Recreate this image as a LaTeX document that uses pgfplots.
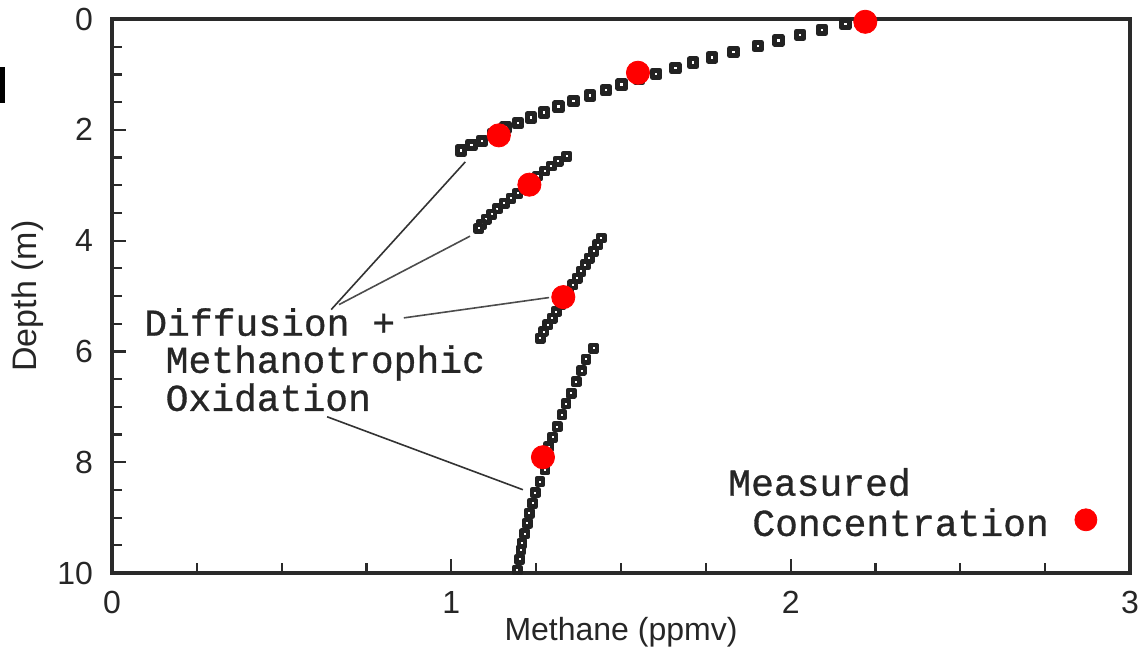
\documentclass[border=0pt]{standalone}
\usepackage{pgfplots}
\pgfplotsset{compat=1.18}
\usepackage{fontspec}
\setmainfont{Liberation Sans}
\newfontfamily\courier[FakeBold=0.8]{Liberation Mono}
\definecolor{axcol}{HTML}{2A2A2A}
\definecolor{sqcol}{HTML}{222222}
\definecolor{dotred}{HTML}{FF0000}
\begin{document}
\begin{tikzpicture}
\begin{axis}[
  name=ax, scale only axis, width=509pt, height=277pt,
  xmin=0, xmax=3, ymin=0, ymax=10, y dir=reverse,
  xtick={0,1,2,3}, ytick={0,2,4,6,8,10},
  minor xtick={0.25,0.5,0.75,1.25,1.5,1.75,2.25,2.5,2.75},
  minor ytick={0.5,1,1.5,2.5,3,3.5,4.5,5,5.5,6.5,7,7.5,8.5,9,9.5},
  tick pos=left, tick align=inside,
  major tick length=7pt, minor tick length=5pt,
  every tick/.append style={line width=1.1pt, color=axcol},
  axis line style={line width=1.6pt, color=axcol},
  ticklabel style={font=\fontsize{16}{19}\selectfont, color=black!85},
  /pgf/number format/assume math mode=true,
  yticklabel style={xshift=-6pt},
  xticklabel style={yshift=-5.5pt},
  xlabel={Methane (ppmv)}, ylabel={Depth (m)},
  xlabel style={font=\fontsize{16}{19}\selectfont, color=black!85, yshift=5pt},
  ylabel style={font=\fontsize{17}{20}\selectfont, color=black!85},
  clip=false,
]
% model: diffusion + methanotrophic oxidation
\addplot[only marks, mark=square*, mark size=1.85pt,
  mark options={draw=sqcol, fill=white, line width=2.5pt, line join=round}]
  coordinates {
  (2.215,0.0)(2.161,0.089)(2.092,0.195)(2.028,0.284)(1.964,0.385)(1.903,0.486)
  (1.831,0.592)(1.768,0.692)(1.713,0.788)(1.660,0.887)(1.604,0.988)(1.553,1.085)
  (1.502,1.184)(1.456,1.286)(1.409,1.380)(1.360,1.482)(1.316,1.582)(1.273,1.689)
  (1.234,1.778)(1.196,1.880)(1.160,1.957)(1.123,2.077)(1.090,2.197)(1.059,2.274)
  (1.028,2.376)};
\addplot[only marks, mark=square*, mark size=1.6pt,
  mark options={draw=sqcol, fill=white, line width=2.2pt, line join=round}]
  coordinates {
  (1.340,2.476)(1.315,2.566)(1.295,2.655)(1.275,2.745)(1.255,2.835)(1.235,2.943)
  (1.216,3.043)(1.196,3.146)(1.176,3.236)(1.156,3.325)(1.136,3.421)(1.119,3.523)
  (1.103,3.613)(1.089,3.703)(1.081,3.781)};
\addplot[only marks, mark=square*, mark size=1.6pt,
  mark options={draw=sqcol, fill=white, line width=2.2pt, line join=round}]
  coordinates {
  (1.442,3.954)(1.431,4.075)(1.419,4.196)(1.406,4.316)(1.395,4.437)(1.382,4.557)
  (1.371,4.678)(1.358,4.798)(1.347,4.919)(1.334,5.040)(1.322,5.160)(1.309,5.281)
  (1.297,5.400)(1.284,5.520)(1.272,5.641)(1.262,5.761)};
\addplot[only marks, mark=square*, mark size=1.6pt,
  mark options={draw=sqcol, fill=white, line width=2.2pt, line join=round}]
  coordinates {
  (1.419,5.943)(1.397,6.141)(1.384,6.347)(1.368,6.545)(1.353,6.754)(1.338,6.947)
  (1.326,7.146)(1.312,7.357)(1.299,7.548)(1.287,7.718)(1.282,7.930)(1.276,8.139)
  (1.261,8.350)(1.247,8.548)(1.240,8.740)(1.230,8.920)(1.224,9.101)(1.216,9.294)
  (1.208,9.462)(1.205,9.583)(1.201,9.751)(1.194,9.945)};
% measured concentration
\addplot[only marks, mark=*, mark size=5.8pt, color=dotred]
  coordinates {(2.22,0.05)(1.55,0.97)(1.14,2.10)(1.23,2.99)(1.33,5.02)(1.27,7.91)};
\addplot[only marks, mark=*, mark size=5.5pt, color=dotred]
  coordinates {(2.87,9.04)};
% leader lines
\draw[line width=0.8pt, color=black!80] (axis cs:0.646,5.245) -- (axis cs:1.041,2.580);
\draw[line width=0.8pt, color=black!70] (axis cs:0.669,5.155) -- (axis cs:1.055,3.920);
\draw[line width=0.8pt, color=black!70] (axis cs:0.860,5.395) -- (axis cs:1.288,5.028);
\draw[line width=0.8pt, color=black!80] (axis cs:0.634,7.180) -- (axis cs:1.211,8.497);
% annotations
\node[anchor=base west, inner sep=0, font=\courier\fontsize{19}{22}\selectfont, color=black!85]
  at (axis cs:0.094,5.717) {Diffusion +};
\node[anchor=base west, inner sep=0, font=\courier\fontsize{19}{22}\selectfont, color=black!85]
  at (axis cs:0.157,6.386) {Methanotrophic};
\node[anchor=base west, inner sep=0, font=\courier\fontsize{19}{22}\selectfont, color=black!85]
  at (axis cs:0.157,7.073) {Oxidation};
\node[anchor=base west, inner sep=0, font=\courier\fontsize{19}{22}\selectfont, color=black!85]
  at (axis cs:1.815,8.604) {Measured};
\node[anchor=base west, inner sep=0, font=\courier\fontsize{19}{22}\selectfont, color=black!85]
  at (axis cs:1.886,9.330) {Concentration};
\end{axis}
\fill[black] ([xshift=-56pt,yshift=235pt]ax.south west) rectangle ([xshift=-53.5pt,yshift=253pt]ax.south west);
\pgfresetboundingbox
\path ([xshift=-56pt,yshift=-37pt]ax.south west) rectangle ([xshift=6.5pt,yshift=9.5pt]ax.north east);
\end{tikzpicture}
\end{document}
